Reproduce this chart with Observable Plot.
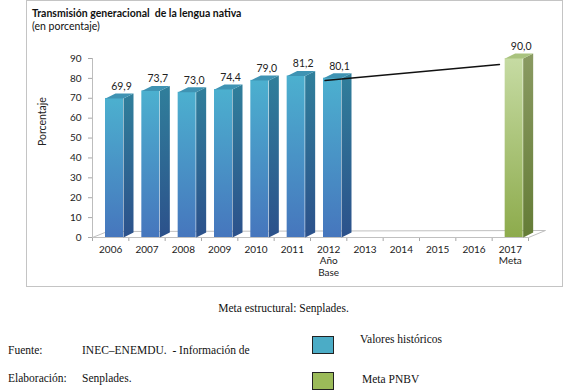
<!DOCTYPE html>
<html><head><meta charset="utf-8">
<script src="https://cdn.jsdelivr.net/npm/d3@7"></script>
<script src="https://cdn.jsdelivr.net/npm/@observablehq/plot@0.6"></script>
<style>
body{margin:0;background:#fff;}
#wrap{position:relative;width:567px;height:391px;overflow:hidden;font-family:"Liberation Serif",serif;color:#111;}
#box{position:absolute;left:26px;top:0px;width:537px;height:287px;border:1px solid #c4c4c4;box-sizing:border-box;}
#chart{position:absolute;left:0;top:0;}
.t{position:absolute;white-space:nowrap;line-height:1;}
.sw{position:absolute;width:20px;height:16px;border:1.5px solid #222;box-sizing:border-box;}
#chart g[aria-label$="-axis tick"]{stroke:#a8a8a8;}
</style></head>
<body>
<div id="wrap">
  <div id="box"></div>
  <div id="chart"></div>
  <div class="t" style="left:32px;top:8px;font-family:Lato,sans-serif;font-weight:bold;font-size:10.5px;">Transmisión generacional&nbsp; de la lengua nativa</div>
  <div class="t" style="left:32px;top:21px;font-family:Lato,sans-serif;font-size:10.5px;">(en porcentaje)</div>
  <div class="t" style="left:0;width:567px;text-align:center;top:303px;font-size:11.5px;">Meta estructural: Senplades.</div>
  <div class="t" style="left:8px;top:345px;font-size:11.5px;">Fuente:</div>
  <div class="t" style="left:82px;top:345px;font-size:11.5px;">INEC–ENEMDU.&nbsp; - Información de</div>
  <div class="t" style="left:8px;top:373px;font-size:11.5px;">Elaboración:</div>
  <div class="t" style="left:82px;top:373px;font-size:11.5px;">Senplades.</div>
  <div class="sw" style="left:312px;top:336px;width:22px;height:18px;background:#4bacc6;"></div>
  <div class="t" style="left:360px;top:334px;font-size:11.5px;">Valores históricos</div>
  <div class="sw" style="left:312px;top:372px;width:22px;height:18px;background:#9bbb59;"></div>
  <div class="t" style="left:362px;top:374px;font-size:11.5px;">Meta PNBV</div>
</div>
<script>
// ---- data ----
const years = [2006,2007,2008,2009,2010,2011,2012,2013,2014,2015,2016,2017];
const yearLabels = ["2006","2007","2008","2009","2010","2011","2012\nAño\nBase","2013","2014","2015","2016","2017\nMeta"];
const barYears = [2006,2007,2008,2009,2010,2011,2012,2017];
const barValues = [69.9,73.7,73.0,74.4,79.0,81.2,80.1,90.0];
const barLabels = ["69,9","73,7","73,0","74,4","79,0","81,2","80,1","90,0"];
const barKinds = ["hist","hist","hist","hist","hist","hist","hist","meta"];
const yTicks = [0,10,20,30,40,50,60,70,80,90];
const trendX = [2011.9, 2016.7];
const trendY = [78.9, 87.0];

// ---- geometry helpers (pixel -> data units) ----
const W = 567, H = 290, mL = 92, mR = 39, mT = 58, mB = 53;
const xDom = [2005.5, 2017.5], yDom = [0, 90];
const pxPerYear = (W - mL - mR) / (xDom[1] - xDom[0]);
const pxPerUnit = (H - mT - mB) / (yDom[1] - yDom[0]);
const ux = p => p / pxPerYear, uy = p => p / pxPerUnit;
const FRONT_OFF = 13, FRONT_W = 18, DEPTH_X = 10, DEPTH_Y = 5;

const bars = barYears.map((yr, i) => ({yr, v: barValues[i], label: barLabels[i], kind: barKinds[i]}));
const front = bars.map(b => ({kind: b.kind, x1: b.yr - 0.5 + ux(FRONT_OFF), x2: b.yr - 0.5 + ux(FRONT_OFF + FRONT_W), y1: 0, y2: b.v}));
const side = bars.flatMap(b => {
  const x = b.yr - 0.5 + ux(FRONT_OFF + FRONT_W);
  return [[x, 0], [x, b.v], [x + ux(DEPTH_X), b.v + uy(DEPTH_Y)], [x + ux(DEPTH_X), uy(DEPTH_Y)]]
    .map(([px, py]) => ({id: b.yr, kind: b.kind, x: px, y: py}));
});
const topF = bars.flatMap(b => {
  const x1 = b.yr - 0.5 + ux(FRONT_OFF), x2 = x1 + ux(FRONT_W);
  return [[x1, b.v], [x2, b.v], [x2 + ux(DEPTH_X), b.v + uy(DEPTH_Y)], [x1 + ux(DEPTH_X), b.v + uy(DEPTH_Y)]]
    .map(([px, py]) => ({id: b.yr, kind: b.kind, x: px, y: py}));
});
const floor = [[xDom[0], 0], [xDom[1], 0], [xDom[1] + ux(17), uy(7)], [xDom[0] + ux(15), uy(6)]]
  .map(([x, y]) => ({x, y}));
const boundaries = d3.range(xDom[0], xDom[1] + 0.01, 1);
const trend = trendX.map((x, i) => ({x, y: trendY[i]}));

const fills = {
  hist: {front: "url(#fbH)", side: "url(#sbH)", top: "#3f93b3"},
  meta: {front: "url(#fbM)", side: "url(#sbM)", top: "#a9c37e"}
};
const barMarks = [];
for (const k of ["hist", "meta"]) {
  barMarks.push(Plot.rectY(front.filter(d => d.kind === k), {x1: "x1", x2: "x2", y1: "y1", y2: "y2", fill: fills[k].front}));
  barMarks.push(Plot.line(side.filter(d => d.kind === k), {x: "x", y: "y", z: "id", fill: fills[k].side, stroke: "none"}));
  barMarks.push(Plot.line(topF.filter(d => d.kind === k), {x: "x", y: "y", z: "id", fill: fills[k].top, stroke: "none"}));
}

const svg = Plot.plot({
  width: W, height: H,
  marginLeft: mL, marginRight: mR, marginTop: mT, marginBottom: mB,
  style: {fontFamily: "Lato, sans-serif", fontSize: "10px", background: "transparent", color: "#222", overflow: "visible"},
  x: {domain: xDom, ticks: boundaries, tickFormat: () => "", tickSize: 4, label: null},
  y: {domain: yDom, ticks: yTicks, tickSize: 4, tickPadding: 7, label: null},
  marks: [
    Plot.line([...floor, floor[0]], {x: "x", y: "y", fill: "white", stroke: "#c0c0c0", strokeWidth: 1}),
    Plot.ruleX([xDom[0]], {y1: yDom[0], y2: yDom[1], stroke: "#bdbdbd"}),
    ...barMarks,
    Plot.line(trend, {x: "x", y: "y", stroke: "#111", strokeWidth: 1.5}),
    Plot.text(bars, {x: b => b.yr - 0.5 + ux(29), y: "v", text: "label", dy: -12, fontSize: 10.5, fill: "#222"}),
    Plot.text(years, {x: d => d, text: (d, i) => yearLabels[i], frameAnchor: "bottom", lineAnchor: "top", dy: 7, lineHeight: 1.15, fontSize: 10, fill: "#222"}),
    Plot.text(["Porcentaje"], {frameAnchor: "left", rotate: -90, dx: -50, dy: -2, fontSize: 10.5, fill: "#222"})
  ]
});

const defs = d3.select(svg).insert("defs", ":first-child");
function grad(id, c0, c1) {
  const g = defs.append("linearGradient").attr("id", id).attr("x1", 0).attr("y1", 0).attr("x2", 0).attr("y2", 1);
  g.append("stop").attr("offset", "0%").attr("stop-color", c0);
  g.append("stop").attr("offset", "100%").attr("stop-color", c1);
}
grad("fbH", "#4cb0cf", "#4676bd");
grad("sbH", "#307f9b", "#2c518b");
grad("fbM", "#c6dba3", "#8dab4c");
grad("sbM", "#8a9a62", "#647c36");

document.getElementById("chart").appendChild(svg);
</script>
</body></html>
